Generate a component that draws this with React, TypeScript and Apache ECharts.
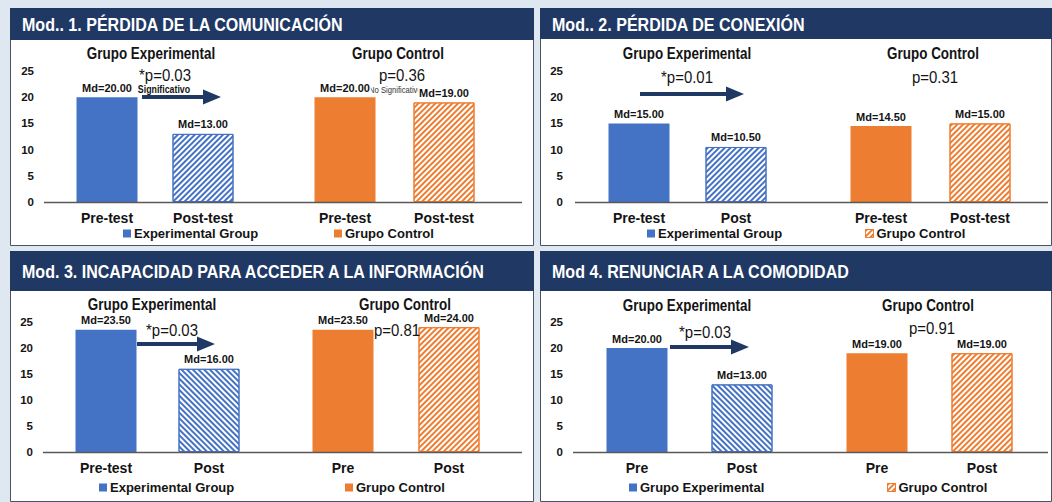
import React, { useEffect, useRef } from 'react';
import * as echarts from 'echarts';

// ---------------- DATA ----------------
const panelTitles = [
  'Mod.. 1. PÉRDIDA DE LA COMUNICACIÓN',
  'Mod.. 2. PÉRDIDA DE CONEXIÓN',
  'Mod. 3. INCAPACIDAD PARA ACCEDER A LA INFORMACIÓN',
  'Mod 4. RENUNCIAR A LA COMODIDAD',
];
const groupTitles = ['Grupo Experimental', 'Grupo Control'];
const expCategories = [
  ['Pre-test', 'Post-test'],
  ['Pre-test', 'Post'],
  ['Pre-test', 'Post'],
  ['Pre', 'Post'],
];
const ctrlCategories = [
  ['Pre-test', 'Post-test'],
  ['Pre-test', 'Post-test'],
  ['Pre', 'Post'],
  ['Pre', 'Post'],
];
const expValues = [
  [20, 13],
  [15, 10.5],
  [23.5, 16],
  [20, 13],
];
const ctrlValues = [
  [20, 19],
  [14.5, 15],
  [23.5, 24],
  [19, 19],
];
const expPValues = ['*p=0.03', '*p=0.01', '*p=0.03', '*p=0.03'];
const ctrlPValues = ['p=0.36', 'p=0.31', 'p=0.81', 'p=0.91'];
const expNotes = ['Significativo', '', '', ''];
const ctrlNotes = ['No Significativo', '', '', ''];
const expLegendNames = ['Experimental Group', 'Experimental Group', 'Experimental Group', 'Grupo Experimental'];
const ctrlLegendName = 'Grupo Control';
const yMin = 0;
const yMax = 25;
const yInterval = 5;

// ---------------- LAYOUT / STYLE ----------------
const FONT = '"Liberation Sans Narrow", "Arial Narrow", "Liberation Sans", Arial, sans-serif';
const BLUE = '#4472c4';
const ORANGE = '#ed7d31';
const NAVY = '#1f3864';
const TXT = '#141414';

const layout = [
  {
    box: [10, 8, 524, 238], header: 32, titleY: 25,
    centers: [107, 203, 345, 444], base: 202, top: 71, yLabelRight: 34, line: [44, 522],
    gTitles: [[151, 54], [398, 54]], pExp: [165, 75], pCtrl: [402, 75],
    noteExp: [164, 89], noteCtrl: [369, 90], arrow: [142, 221, 97],
    legExp: [123, 235], legCtrl: [334, 235], ctrlHatchLegend: false, expDir: -1,
  },
  {
    box: [540, 8, 512, 238], header: 31, titleY: 25,
    centers: [639, 736, 881, 980], base: 202, top: 71, yLabelRight: 563, line: [575, 1048],
    gTitles: [[687, 54], [933, 54]], pExp: [687, 77], pCtrl: [935, 77],
    noteExp: [0, 0], noteCtrl: [0, 0], arrow: [640, 744, 94],
    legExp: [647, 235], legCtrl: [865, 235], ctrlHatchLegend: true, expDir: -1,
  },
  {
    box: [10, 251, 524, 251], header: 40, titleY: 272,
    centers: [106, 209, 343, 449], base: 452, top: 322, yLabelRight: 33, line: [43, 522],
    gTitles: [[152, 305], [405, 305]], pExp: [172, 330], pCtrl: [397, 330],
    noteExp: [0, 0], noteCtrl: [0, 0], arrow: [137, 215, 344],
    legExp: [99, 489], legCtrl: [345, 489], ctrlHatchLegend: false, expDir: 1,
  },
  {
    box: [540, 251, 512, 251], header: 40, titleY: 272,
    centers: [637, 742, 877, 982], base: 452, top: 322, yLabelRight: 563, line: [573, 1048],
    gTitles: [[687, 306], [928, 306]], pExp: [705, 332], pCtrl: [932, 328],
    noteExp: [0, 0], noteCtrl: [0, 0], arrow: [670, 749, 347],
    legExp: [629, 489], legCtrl: [887, 489], ctrlHatchLegend: true, expDir: 1,
  },
];

function hatch(color: string, dir: number) {
  return {
    color: '#ffffff',
    borderColor: color,
    borderWidth: 1,
    decal: {
      symbol: 'rect',
      symbolSize: 1,
      color,
      dashArrayX: [1, 0],
      dashArrayY: [1.2, 1.4],
      rotation: (dir * Math.PI) / 4,
    },
  };
}

function text(x: number, y: number, t: string, size: number, weight: string, sx: number, align = 'center', color = TXT, z = 5) {
  return {
    type: 'text',
    x,
    y,
    z,
    scaleX: sx,
    silent: true,
    style: {
      text: t,
      fill: color,
      fontSize: size,
      fontWeight: weight,
      fontFamily: FONT,
      align,
      textAlign: align,
      verticalAlign: 'middle',
      textVerticalAlign: 'middle',
    },
  };
}

function arrow(x1: number, x2: number, y: number) {
  const hl = 18;
  return {
    type: 'polygon',
    z: 5,
    silent: true,
    shape: {
      points: [
        [x1, y - 2], [x2 - hl, y - 2], [x2 - hl, y - 7.5], [x2, y],
        [x2 - hl, y + 7.5], [x2 - hl, y + 2], [x1, y + 2],
      ],
    },
    style: { fill: NAVY },
  };
}

function buildOption() {
  const grids: any[] = [];
  const xAxes: any[] = [];
  const yAxes: any[] = [];
  const series: any[] = [];
  const legends: any[] = [];
  const graphics: any[] = [
    { type: 'rect', z: -10, silent: true, shape: { x: 0, y: 0, width: 1052, height: 502 }, style: { fill: '#dfe7f1' } },
  ];

  layout.forEach((L, p) => {
    const [c1, c2, c3, c4] = L.centers;
    const wL = c2 - c1;
    const wR = c4 - c3;
    const gl = c1 - wL / 2;
    const gr = c3 - wR / 2;
    const h = L.base - L.top;
    grids.push({ left: gl, top: L.top, width: wL * 2, height: h, outerBoundsMode: 'none' });
    grids.push({ left: gr, top: L.top, width: wR * 2, height: h, outerBoundsMode: 'none' });

    const xCommon = {
      type: 'category',
      axisLine: { show: false },
      axisTick: { show: false },
      axisLabel: { fontSize: 14, fontWeight: 'bold', color: TXT, fontFamily: FONT, margin: 9 },
    };
    xAxes.push({ ...xCommon, gridIndex: 2 * p, data: expCategories[p] });
    xAxes.push({ ...xCommon, gridIndex: 2 * p + 1, data: ctrlCategories[p] });

    yAxes.push({
      type: 'value', gridIndex: 2 * p, min: yMin, max: yMax, interval: yInterval,
      splitLine: { show: false }, axisLine: { show: false }, axisTick: { show: false },
      axisLabel: { fontSize: 11.5, fontWeight: 'bold', color: TXT, fontFamily: FONT, margin: gl - L.yLabelRight },
    });
    yAxes.push({
      type: 'value', gridIndex: 2 * p + 1, min: yMin, max: yMax, interval: yInterval, show: false,
      splitLine: { show: false },
    });

    const label = {
      show: true, position: 'top', distance: 4, fontSize: 11, fontWeight: 'bold', color: TXT, fontFamily: FONT,
      formatter: (v: any) => 'Md=' + Number(v.value).toFixed(2),
    };
    series.push({
      type: 'bar', name: expLegendNames[p], xAxisIndex: 2 * p, yAxisIndex: 2 * p, barWidth: 61, z: 3,
      itemStyle: { color: BLUE },
      label,
      data: [
        { value: expValues[p][0], itemStyle: { color: BLUE } },
        { value: expValues[p][1], itemStyle: hatch(BLUE, L.expDir) },
      ],
    });
    series.push({
      type: 'bar', name: ctrlLegendName, xAxisIndex: 2 * p + 1, yAxisIndex: 2 * p + 1, barWidth: 61, z: 3,
      itemStyle: { color: ORANGE },
      label: p === 0 ? { ...label, backgroundColor: '#ffffff', padding: [1, 1, 0, 1] } : label,
      data: [
        { value: ctrlValues[p][0], itemStyle: { color: ORANGE } },
        { value: ctrlValues[p][1], itemStyle: hatch(ORANGE, -1) },
      ],
    });

    const legCommon = {
      orient: 'horizontal', padding: 0, itemWidth: 8, itemHeight: 8, icon: 'rect', selectedMode: false,
      textStyle: { fontSize: 13, fontWeight: 'bold', color: TXT, fontFamily: FONT, padding: [0, 0, 0, -2] },
    };
    legends.push({ ...legCommon, left: L.legExp[0], top: L.legExp[1] - 8, data: [{ name: expLegendNames[p] }] });
    legends.push({
      ...legCommon, left: L.legCtrl[0], top: L.legCtrl[1] - 8,
      data: [L.ctrlHatchLegend ? { name: ctrlLegendName, itemStyle: hatch(ORANGE, -1) } : { name: ctrlLegendName }],
    });

    const [bx, by, bw, bh] = L.box;
    graphics.push({ type: 'rect', z: -5, silent: true, shape: { x: bx + 0.5, y: by + 0.5, width: bw - 1, height: bh - 1 }, style: { fill: '#ffffff', stroke: '#4a5468', lineWidth: 1 } });
    graphics.push({ type: 'rect', z: -4, silent: true, shape: { x: bx, y: by, width: bw, height: L.header }, style: { fill: NAVY } });
    graphics.push(text(bx + 12, L.titleY, panelTitles[p], 19, 'bold', 0.845, 'left', '#ffffff'));
    graphics.push(text(L.gTitles[0][0], L.gTitles[0][1], groupTitles[0], 16, 'bold', 0.84));
    graphics.push(text(L.gTitles[1][0], L.gTitles[1][1], groupTitles[1], 16, 'bold', 0.84));
    graphics.push(text(L.pExp[0], L.pExp[1], expPValues[p], 17, 'normal', 0.88));
    graphics.push(text(L.pCtrl[0], L.pCtrl[1], ctrlPValues[p], 17, 'normal', 0.88));
    if (expNotes[p]) graphics.push(text(L.noteExp[0], L.noteExp[1], expNotes[p], 11, 'bold', 0.8));
    if (ctrlNotes[p]) graphics.push(text(L.noteCtrl[0], L.noteCtrl[1], ctrlNotes[p], 9, 'normal', 0.85, 'left', '#333333', 1));
    graphics.push(arrow(L.arrow[0], L.arrow[1], L.arrow[2]));
    graphics.push({
      type: 'line', z: 4, silent: true,
      shape: { x1: L.line[0], y1: L.base + 0.5, x2: L.line[1], y2: L.base + 0.5 },
      style: { stroke: '#595959', lineWidth: 1.5 },
    });
  });

  return {
    animation: false,
    backgroundColor: '#dfe7f1',
    textStyle: { fontFamily: FONT },
    grid: grids,
    xAxis: xAxes,
    yAxis: yAxes,
    legend: legends,
    series,
    graphic: graphics,
  };
}

export default function App() {
  const ref = useRef<HTMLDivElement>(null);
  useEffect(() => {
    if (!ref.current) return;
    const chart = echarts.init(ref.current, null, { renderer: 'svg' });
    chart.setOption(buildOption() as any);
    return () => chart.dispose();
  }, []);
  return <div ref={ref} style={{ position: 'fixed', left: 0, top: 0, width: 1052, height: 502 }} />;
}
